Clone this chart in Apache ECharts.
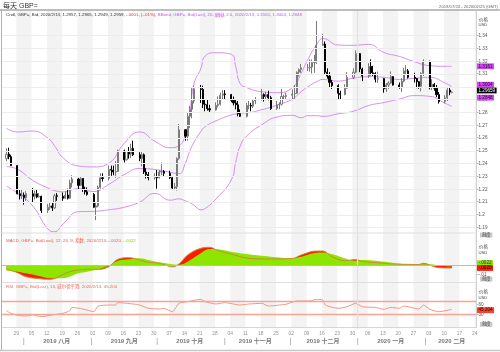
<!DOCTYPE html>
<html><head><meta charset="utf-8">
<script src="https://cdn.jsdelivr.net/npm/echarts@6/dist/echarts.min.js"></script>
<style>html,body{margin:0;padding:0;background:#fff}#c{width:500px;height:352px}</style>
</head><body><div id="c"></div>
<script>
// ---------- DATA ----------
const tradeDates = [
'2019-07-24','2019-07-25','2019-07-26',
'2019-07-29','2019-07-30','2019-07-31','2019-08-01','2019-08-02',
'2019-08-05','2019-08-06','2019-08-07','2019-08-08','2019-08-09',
'2019-08-12','2019-08-13','2019-08-14','2019-08-15','2019-08-16',
'2019-08-19','2019-08-20','2019-08-21','2019-08-22','2019-08-23',
'2019-08-26','2019-08-27','2019-08-28','2019-08-29','2019-08-30',
'2019-09-02','2019-09-03','2019-09-04','2019-09-05','2019-09-06',
'2019-09-09','2019-09-10','2019-09-11','2019-09-12','2019-09-13',
'2019-09-16','2019-09-17','2019-09-18','2019-09-19','2019-09-20',
'2019-09-23','2019-09-24','2019-09-25','2019-09-26','2019-09-27',
'2019-09-30','2019-10-01','2019-10-02','2019-10-03','2019-10-04',
'2019-10-07','2019-10-08','2019-10-09','2019-10-10','2019-10-11',
'2019-10-14','2019-10-15','2019-10-16','2019-10-17','2019-10-18',
'2019-10-21','2019-10-22','2019-10-23','2019-10-24','2019-10-25',
'2019-10-28','2019-10-29','2019-10-30','2019-10-31','2019-11-01',
'2019-11-04','2019-11-05','2019-11-06','2019-11-07','2019-11-08',
'2019-11-11','2019-11-12','2019-11-13','2019-11-14','2019-11-15',
'2019-11-18','2019-11-19','2019-11-20','2019-11-21','2019-11-22',
'2019-11-25','2019-11-26','2019-11-27','2019-11-28','2019-11-29',
'2019-12-02','2019-12-03','2019-12-04','2019-12-05','2019-12-06',
'2019-12-09','2019-12-10','2019-12-11','2019-12-12','2019-12-13',
'2019-12-16','2019-12-17','2019-12-18','2019-12-19','2019-12-20',
'2019-12-23','2019-12-24','2019-12-26','2019-12-27',
'2019-12-30','2019-12-31','2020-01-02','2020-01-03',
'2020-01-06','2020-01-07','2020-01-08','2020-01-09','2020-01-10',
'2020-01-13','2020-01-14','2020-01-15','2020-01-16','2020-01-17',
'2020-01-20','2020-01-21','2020-01-22','2020-01-23','2020-01-24',
'2020-01-27','2020-01-28','2020-01-29','2020-01-30','2020-01-31',
'2020-02-03','2020-02-04','2020-02-05','2020-02-06','2020-02-07',
'2020-02-10','2020-02-11','2020-02-12','2020-02-13'];
const opens = [
1.2440,1.2475,1.2455,
1.2385,1.2165,1.2150,1.2155,1.2135,
1.2165,1.2145,1.2165,1.2140,1.2145,
1.2035,1.2060,1.2070,1.2055,1.2150,
1.2145,1.2130,1.2155,1.2130,1.2250,
1.2280,1.2230,1.2285,1.2200,1.2180,
1.2160,1.2060,1.2070,1.2215,1.2290,
1.2285,1.2355,1.2350,1.2335,1.2340,
1.2500,1.2430,1.2495,1.2475,1.2520,
1.2470,1.2440,1.2470,1.2335,1.2315,
1.2290,1.2295,1.2290,1.2335,1.2340,
1.2325,1.2290,1.2210,1.2220,1.2440,
1.2665,1.2615,1.2770,1.2825,1.2890,
1.2985,1.2980,1.2865,1.2860,1.2830,
1.2820,1.2855,1.2865,1.2935,1.2945,
1.2940,1.2895,1.2875,1.2860,1.2790,
1.2770,1.2855,1.2855,1.2850,1.2890,
1.2900,1.2940,1.2925,1.2940,1.2915,
1.2830,1.2860,1.2865,1.2925,1.2925,
1.2935,1.2945,1.2950,1.3115,1.3135,
1.3150,1.3150,1.3155,1.3190,1.3190,
1.3325,1.3335,1.3115,1.3085,1.3035,
1.3010,1.2950,1.2940,1.2990,
1.3075,1.3115,1.3260,1.3140,
1.3085,1.3160,1.3110,1.3105,1.3060,
1.3065,1.2985,1.3015,1.3030,1.3080,
1.3015,1.3000,1.3045,1.3125,1.3125,
1.3075,1.3065,1.3040,1.3005,1.3105,
1.3200,1.3000,1.3020,1.2990,1.2940,
1.2885,1.2915,1.2975,1.2957];
const highs = [
1.2520,1.2525,1.2470,
1.2390,1.2200,1.2195,1.2175,1.2185,
1.2210,1.2190,1.2200,1.2170,1.2150,
1.2085,1.2095,1.2095,1.2165,1.2170,
1.2175,1.2185,1.2205,1.2275,1.2310,
1.2290,1.2295,1.2285,1.2220,1.2215,
1.2170,1.2095,1.2230,1.2325,1.2325,
1.2385,1.2385,1.2385,1.2420,1.2510,
1.2510,1.2500,1.2530,1.2555,1.2580,
1.2490,1.2500,1.2480,1.2365,1.2335,
1.2325,1.2350,1.2350,1.2410,1.2350,
1.2345,1.2295,1.2250,1.2450,1.2710,
1.2670,1.2800,1.2850,1.2990,1.3010,
1.3015,1.3010,1.2905,1.2905,1.2860,
1.2880,1.2925,1.2955,1.2975,1.2975,
1.2945,1.2925,1.2900,1.2890,1.2825,
1.2875,1.2890,1.2875,1.2905,1.2920,
1.2985,1.2950,1.2960,1.2970,1.2930,
1.2890,1.2880,1.2985,1.2940,1.2955,
1.2980,1.3015,1.3120,1.3145,1.3180,
1.3180,1.3215,1.3215,1.3250,1.3515,
1.3415,1.3355,1.3145,1.3115,1.3055,
1.3020,1.2970,1.3020,1.3115,
1.3145,1.3285,1.3265,1.3150,
1.3185,1.3215,1.3165,1.3115,1.3120,
1.3070,1.3030,1.3045,1.3120,1.3085,
1.3035,1.3070,1.3150,1.3170,1.3140,
1.3110,1.3070,1.3045,1.3115,1.3215,
1.3205,1.3060,1.3030,1.3015,1.2960,
1.2935,1.2995,1.3000,1.2965];
const lows = [
1.2420,1.2435,1.2385,
1.2160,1.2120,1.2125,1.2080,1.2110,
1.2095,1.2120,1.2130,1.2135,1.2015,
1.2015,1.2040,1.2030,1.2045,1.2110,
1.2110,1.2125,1.2120,1.2125,1.2215,
1.2195,1.2225,1.2180,1.2160,1.2150,
1.2055,1.1959,1.2060,1.2205,1.2260,
1.2270,1.2305,1.2310,1.2290,1.2335,
1.2410,1.2425,1.2440,1.2445,1.2460,
1.2420,1.2380,1.2320,1.2285,1.2270,
1.2275,1.2205,1.2285,1.2310,1.2300,
1.2280,1.2195,1.2195,1.2190,1.2430,
1.2580,1.2580,1.2680,1.2755,1.2870,
1.2875,1.2835,1.2810,1.2815,1.2800,
1.2815,1.2840,1.2855,1.2905,1.2905,
1.2880,1.2855,1.2825,1.2770,1.2765,
1.2760,1.2825,1.2810,1.2835,1.2865,
1.2895,1.2885,1.2905,1.2895,1.2820,
1.2820,1.2825,1.2855,1.2900,1.2905,
1.2895,1.2900,1.2945,1.3080,1.3110,
1.3125,1.3120,1.3105,1.3110,1.3180,
1.3320,1.3095,1.3065,1.2995,1.2985,
1.2905,1.2900,1.2935,1.2985,
1.3060,1.3105,1.3115,1.3045,
1.3070,1.3090,1.3085,1.3035,1.3030,
1.2955,1.2960,1.2985,1.3025,1.3010,
1.2985,1.2960,1.3035,1.3100,1.3065,
1.3035,1.2990,1.2985,1.2965,1.3085,
1.2980,1.2975,1.2970,1.2920,1.2870,
1.2870,1.2890,1.2935,1.2949];
const closes = [
1.2475,1.2455,1.2385,
1.2165,1.2150,1.2155,1.2135,1.2165,
1.2145,1.2165,1.2140,1.2145,1.2035,
1.2060,1.2070,1.2055,1.2150,1.2145,
1.2130,1.2155,1.2130,1.2250,1.2280,
1.2230,1.2285,1.2200,1.2180,1.2160,
1.2060,1.2070,1.2215,1.2290,1.2285,
1.2355,1.2350,1.2335,1.2340,1.2500,
1.2430,1.2495,1.2475,1.2520,1.2470,
1.2440,1.2470,1.2335,1.2315,1.2290,
1.2295,1.2290,1.2335,1.2340,1.2325,
1.2290,1.2210,1.2220,1.2440,1.2665,
1.2615,1.2770,1.2825,1.2890,1.2985,
1.2980,1.2865,1.2860,1.2830,1.2820,
1.2855,1.2865,1.2935,1.2945,1.2940,
1.2895,1.2875,1.2860,1.2790,1.2770,
1.2855,1.2855,1.2850,1.2890,1.2900,
1.2940,1.2925,1.2940,1.2915,1.2830,
1.2860,1.2865,1.2925,1.2925,1.2935,
1.2945,1.2950,1.3115,1.3135,1.3150,
1.3150,1.3155,1.3190,1.3190,1.3325,
1.3335,1.3115,1.3085,1.3035,1.3010,
1.2950,1.2940,1.2990,1.3075,
1.3115,1.3260,1.3140,1.3085,
1.3160,1.3110,1.3105,1.3060,1.3065,
1.2985,1.3015,1.3030,1.3080,1.3015,
1.3000,1.3045,1.3125,1.3125,1.3075,
1.3065,1.3040,1.3005,1.3105,1.3200,
1.3000,1.3020,1.2990,1.2940,1.2885,
1.2915,1.2975,1.2960,1.2959];

// Bollinger band
const bbDates = ['2019-07-24','2019-07-29','2019-08-05','2019-08-12','2019-08-15','2019-08-19','2019-08-26','2019-09-02','2019-09-09','2019-09-16','2019-09-23','2019-09-30','2019-10-07','2019-10-11','2019-10-14','2019-10-16','2019-10-18','2019-10-21','2019-10-23','2019-10-28','2019-11-04','2019-11-06','2019-11-08','2019-11-11','2019-11-18','2019-11-25','2019-12-02','2019-12-06','2019-12-09','2019-12-13','2019-12-16','2019-12-23','2019-12-30','2020-01-06','2020-01-13','2020-01-20','2020-01-27','2020-02-03','2020-02-10','2020-02-13'];
const bbUpper = [1.2677,1.2648,1.2655,1.2600,1.2540,1.2445,1.2382,1.2375,1.2405,1.2560,1.2648,1.2575,1.2525,1.2540,1.2630,1.2800,1.3030,1.3140,1.3240,1.3267,1.3255,1.3160,1.3028,1.2995,1.2962,1.2955,1.2995,1.3106,1.3212,1.3327,1.3378,1.3327,1.3325,1.3332,1.3268,1.3238,1.3196,1.3166,1.3161,1.3161];
const bbMid   = [1.2377,1.2357,1.2270,1.2210,1.2190,1.2180,1.2205,1.2183,1.2240,1.2315,1.2362,1.2355,1.2333,1.2322,1.2406,1.2500,1.2570,1.2650,1.2689,1.2735,1.2781,1.2788,1.2795,1.2797,1.2822,1.2858,1.2905,1.2963,1.3000,1.3040,1.3058,1.3045,1.3068,1.3080,1.3075,1.3058,1.3067,1.3075,1.3030,1.3004];
const bbLower = [1.2225,1.2170,1.2070,1.1890,1.1869,1.1930,1.2025,1.2028,1.2040,1.2060,1.2100,1.2168,1.2115,1.2125,1.2110,1.2095,1.2075,1.2040,1.2050,1.2125,1.2273,1.2410,1.2535,1.2615,1.2705,1.2765,1.2778,1.2759,1.2775,1.2775,1.2770,1.2790,1.2810,1.2855,1.2878,1.2905,1.2932,1.2926,1.2872,1.2848];

// MACD
const macdDates = ['2019-07-24','2019-07-29','2019-08-02','2019-08-08','2019-08-13','2019-08-19','2019-08-22','2019-08-26','2019-08-30','2019-09-04','2019-09-09','2019-09-13','2019-09-18','2019-09-23','2019-09-27','2019-10-02','2019-10-08','2019-10-11','2019-10-15','2019-10-21','2019-10-25','2019-10-29','2019-11-04','2019-11-12','2019-11-22','2019-12-02','2019-12-06','2019-12-13','2019-12-16','2019-12-20','2019-12-26','2019-12-31','2020-01-03','2020-01-10','2020-01-17','2020-01-23','2020-01-29','2020-01-31','2020-02-04','2020-02-07','2020-02-13'];
const macdValues   = [-0.0043,-0.0077,-0.0117,-0.0137,-0.0143,-0.0095,-0.0067,-0.0050,-0.0043,-0.0043,-0.0015,0.0057,0.0073,0.0050,0.0027,0.0017,-0.0017,0.0010,0.0100,0.0167,0.0177,0.0143,0.0110,0.0067,0.0060,0.0065,0.0100,0.0140,0.0140,0.0083,0.0043,0.0055,0.0035,0.0023,0.0010,0.0007,0.0005,0.0017,-0.0010,-0.0027,-0.0030];
const signalValues = [-0.0057,-0.0067,-0.0083,-0.0110,-0.0133,-0.0130,-0.0117,-0.0083,-0.0067,-0.0043,-0.0005,0.0043,0.0057,0.0067,0.0050,0.0027,0.0007,0.0003,0.0033,0.0117,0.0160,0.0157,0.0133,0.0107,0.0083,0.0067,0.0083,0.0123,0.0125,0.0110,0.0067,0.0043,0.0050,0.0040,0.0023,0.0010,0.0010,0.0008,0.0007,-0.0008,-0.0015];

// RSI
const rsiDates = ['2019-07-24','2019-07-26','2019-07-29','2019-08-02','2019-08-05','2019-08-09','2019-08-14','2019-08-19','2019-08-22','2019-08-23','2019-08-28','2019-09-02','2019-09-04','2019-09-09','2019-09-12','2019-09-13','2019-09-20','2019-09-23','2019-09-27','2019-10-02','2019-10-04','2019-10-08','2019-10-11','2019-10-15','2019-10-21','2019-10-23','2019-10-28','2019-11-01','2019-11-08','2019-11-11','2019-11-12','2019-11-18','2019-11-21','2019-11-26','2019-11-29','2019-12-04','2019-12-10','2019-12-13','2019-12-16','2019-12-17','2019-12-23','2019-12-27','2019-12-31','2020-01-03','2020-01-09','2020-01-13','2020-01-16','2020-01-20','2020-01-22','2020-01-29','2020-01-31','2020-02-03','2020-02-07','2020-02-13'];
const rsiValues = [41.5,33.9,28,26,29,24,29,34,41.5,51,46.4,38.6,55,58,58,65,61,58,48.5,46.4,48.5,38.6,63,67.8,74.7,67.8,61,65,58,60,61,63,55,58,60,69.8,69.8,74.7,72,58,48.5,53,63,53,51,45.5,51,48.5,55,46.4,58,45.5,38.6,45.204];

// Axis / tick labels
const priceTickLabels = ['1.34','1.33','1.32','1.31','1.29','1.28','1.27','1.26','1.25','1.24','1.23','1.22','1.21','1.2','1.19'];
const rsiTickLabels = ['60','30'];
const weekTicks = ['2019-07-29','2019-08-05','2019-08-12','2019-08-19','2019-08-26','2019-09-02','2019-09-09','2019-09-16','2019-09-23','2019-09-30','2019-10-07','2019-10-14','2019-10-21','2019-10-28','2019-11-04','2019-11-11','2019-11-18','2019-11-25','2019-12-02','2019-12-09','2019-12-16','2019-12-23','2019-12-30','2020-01-06','2020-01-13','2020-01-20','2020-01-27','2020-02-03','2020-02-10','2020-02-17','2020-02-24'];
const monthLabels = ['2019 八月','2019 九月','2019 十月','2019 十一月','2019 十二月','2020 一月','2020 二月'];
const monthLabelDates = ['2019-08-16','2019-09-16','2019-10-16','2019-11-15','2019-12-16','2020-01-16','2020-02-13'];
const monthStarts = ['2019-08-01','2019-09-01','2019-10-01','2019-11-01','2019-12-01','2020-01-01','2020-02-01'];
const yearBoundary = '2020-01-01';

// ---------- BUILD ----------
const DAY = 864e5;
function ts(s, h) { const p = s.split('-').map(Number); return Date.UTC(p[0], p[1]-1, p[2], h || 0); }
const X_MIN = Date.UTC(2019,6,29) - 6.55*DAY;
const X_MAX = Date.UTC(2020,1,24) + 0.6*DAY;
const FONT = '"Liberation Sans","Noto Sans CJK SC",sans-serif';
const BAND = '#f3f3f3';

const bands = [];
for (let i = 0; i < weekTicks.length; i += 2) {
  const a = ts(weekTicks[i]);
  const b = i + 1 < weekTicks.length ? ts(weekTicks[i+1]) : ts(weekTicks[i]) + 7*DAY;
  bands.push([{xAxis: a}, {xAxis: b}]);
}
const markBands = {silent: true, itemStyle: {color: BAND}, data: bands};
const yearLine = {xAxis: ts(yearBoundary)};
const YEAR_STYLE = {lineStyle: {color: '#e2e2e2', width: 1.2}};

const candleData = tradeDates.map((d, i) => [ts(d, 12), opens[i], closes[i], lows[i], highs[i]]);
const pts = (dates, vals) => dates.map((d, i) => [ts(d, 12), vals[i]]);

const priceGrid = priceTickLabels.map(s => ({yAxis: parseFloat(s)}));
priceGrid.push({yAxis: 1.30});

const grids = [
  {left: 2, right: 24, top: 10.1, height: 230.4},
  {left: 2, right: 24, top: 235, height: 50},
  {left: 2, right: 24, top: 283.8, height: 44.5},
  {left: 2, right: 24, top: 328.3, height: 22}
];
const xAxes = grids.map((g, i) => ({type: 'time', gridIndex: i, min: X_MIN, max: X_MAX, show: false}));
const lblStyle = {fontSize: 4.6, color: '#555', fontFamily: FONT, margin: 1};
const yAxes = [
  {type: 'value', gridIndex: 0, position: 'right', min: 1.18, max: 1.36, interval: 0.01,
   axisLine: {show: false}, axisTick: {show: false}, splitLine: {show: false},
   axisLabel: Object.assign({}, lblStyle, {formatter: v => { const s = String(+v.toFixed(2)); return priceTickLabels.indexOf(s) >= 0 ? '-' + s : ''; }})},
  {type: 'value', gridIndex: 1, position: 'right', min: -0.02, max: 0.03, interval: 0.01,
   axisLine: {show: false}, axisTick: {show: false}, splitLine: {show: false},
   axisLabel: Object.assign({}, lblStyle, {formatter: v => Math.abs(v + 0.01) < 1e-9 ? '--.01' : ''})},
  {type: 'value', gridIndex: 2, position: 'right', min: -10, max: 120, interval: 10,
   axisLine: {show: false}, axisTick: {show: false}, splitLine: {show: false},
   axisLabel: Object.assign({}, lblStyle, {formatter: v => { const s = String(Math.round(v)); return rsiTickLabels.indexOf(s) >= 0 ? '-' + s : ''; }})},
  {type: 'value', gridIndex: 3, min: 0, max: 1, show: false}
];

const bbLine = (name, vals) => ({
  name, type: 'line', xAxisIndex: 0, yAxisIndex: 0, data: pts(bbDates, vals), smooth: 0.5,
  symbol: 'none', lineStyle: {color: '#d48cf2', width: 1}, silent: true, z: 3
});

const labelScatter = (data, y, label) => ({
  type: 'scatter', xAxisIndex: 3, yAxisIndex: 3, symbolSize: 1, silent: true,
  itemStyle: {color: 'rgba(0,0,0,0)'},
  data: data.map(o => ({value: [o.t, y], name: o.n})),
  label: Object.assign({show: true, position: 'inside', formatter: '{b}', fontFamily: FONT}, label)
});

const series = [
  {
    name: 'Cndl', type: 'candlestick', xAxisIndex: 0, yAxisIndex: 0, barWidth: 1.6,
    data: candleData, encode: {x: 0, y: [1, 2, 3, 4]},
    itemStyle: {color: '#ffffff', color0: '#000000', borderColor: '#7a7a7a', borderColor0: '#000000', borderWidth: 1},
    markArea: markBands,
    markLine: {silent: true, symbol: 'none', label: {show: false}, animation: false,
      lineStyle: {color: '#ededed', width: 1, type: 'solid'},
      data: priceGrid.concat([Object.assign({}, YEAR_STYLE, yearLine)])},
    z: 4
  },
  bbLine('upper', bbUpper), bbLine('mid', bbMid), bbLine('lower', bbLower),
  {
    name: 'macdArea', type: 'line', xAxisIndex: 1, yAxisIndex: 1, data: pts(macdDates, macdValues), smooth: 0.4,
    symbol: 'none', lineStyle: {width: 0}, areaStyle: {color: '#ff1a00', opacity: 1}, silent: true,
    markArea: markBands,
    markLine: {silent: true, symbol: 'none', label: {show: false}, lineStyle: {color: '#e2e2e2', width: 1.2, type: 'solid'}, data: [yearLine]}
  },
  {
    name: 'signal', type: 'line', xAxisIndex: 1, yAxisIndex: 1, data: pts(macdDates, signalValues), smooth: 0.4,
    symbol: 'none', lineStyle: {width: 0}, areaStyle: {color: '#8ee600', opacity: 1}, silent: true
  },
  {
    name: 'macd', type: 'line', xAxisIndex: 1, yAxisIndex: 1, data: pts(macdDates, macdValues), smooth: 0.4,
    symbol: 'none', lineStyle: {color: '#c98a3a', width: 1}, silent: true,
    markLine: {silent: true, symbol: 'none', label: {show: false}, lineStyle: {color: '#f2a59a', width: 1, type: 'solid'}, data: [{yAxis: 0}]}
  },
  {
    name: 'rsi', type: 'line', xAxisIndex: 2, yAxisIndex: 2, data: pts(rsiDates, rsiValues), smooth: 0.2,
    symbol: 'none', lineStyle: {color: '#f39480', width: 1}, silent: true,
    markArea: markBands,
    markLine: {silent: true, symbol: 'none', label: {show: false}, lineStyle: {color: '#f6a593', width: 1.3, type: 'solid'},
      data: [{yAxis: 70}, {yAxis: 30}, Object.assign({}, YEAR_STYLE, yearLine)]}
  },
  labelScatter(weekTicks.map(d => ({t: ts(d), n: d.slice(8)})), 0.755, {fontSize: 4.9, color: '#777'}),
  labelScatter(monthLabels.map((n, i) => ({t: ts(monthLabelDates[i], 12), n})), 0.39, {fontSize: 6, color: '#555', fontWeight: 'bold'}),
  labelScatter(monthStarts.map(d => ({t: ts(d, 12), n: '|'})), 0.40, {fontSize: 6.5, color: '#666'})
];

const chart = echarts.init(document.getElementById('c'), null, {renderer: 'canvas'});
chart.setOption({animation: false, grid: grids, xAxis: xAxes, yAxis: yAxes, series});

// ---------- CHROME & VALUE LABELS ----------
const g = [];
const txt = (x, y, text, st) => g.push({type: 'text', x, y, z: 120, silent: true,
  style: Object.assign({text, fontFamily: FONT, fontSize: 4.6, fill: '#444', verticalAlign: 'middle', align: 'left'}, st)});
const line = (x1, y1, x2, y2, color, w) => g.push({type: 'line', z: 110, silent: true,
  shape: {x1, y1, x2, y2}, style: {stroke: color, lineWidth: w || 1}});

line(0, 10, 500, 10, '#a8a8a8', 1.3);
line(1.5, 10, 1.5, 350, '#b0b0b0', 1);
line(476.5, 10, 476.5, 328, '#d0d0d0', 1);
line(1.5, 233, 476.5, 233, '#dedede', 1);
line(1.5, 282.5, 476.5, 282.5, '#dedede', 1);
line(1.5, 327.5, 476.5, 327.5, '#d6d6d6', 1);
line(0, 350.5, 500, 350.5, '#c8c8c8', 1.5);

txt(3, 6, '每天 GBP=', {fontSize: 7, fill: '#333'});
txt(498, 6.5, '2019/07/24 - 2020/02/25 (GMT)', {fontSize: 4.2, fill: '#666', align: 'right'});

const rs = (c, extra) => Object.assign({fontSize: 4.4, fontFamily: FONT, fill: c}, extra || {});
g.push({type: 'text', x: 6, y: 15, z: 120, silent: true, style: {
  text: '{a|Cndl, GBP=, Bid, 2020/2/13, 1.2957, 1.2965, 1.2949, 1.2959, }{r|-.0001, (-.01%), }{m|BBand, GBP=, Bid(Last), 20, }{h|指数}{m|, 2.0, 2020/2/13, 1.3161, 1.3004, 1.2848}',
  verticalAlign: 'middle', rich: {a: rs('#333'), r: rs('#ff2a2a'), m: rs('#c257ea'), h: rs('#ffffff', {backgroundColor: '#d27af2'})}}});
g.push({type: 'text', x: 6, y: 241, z: 120, silent: true, style: {
  text: '{r|MACD, GBP=, Bid(Last), 12, 26, 9, 指数, 2020/2/13, -.0020, }{g|-.0022}',
  verticalAlign: 'middle', rich: {r: rs('#ec5a4a'), g: rs('#86d000')}}});
g.push({type: 'text', x: 6, y: 286.7, z: 120, silent: true, style: {
  text: '{r|RSI, GBP=, Bid(Last), 14, 威尔德平滑, 2020/2/13, 45.204}',
  verticalAlign: 'middle', rich: {r: rs('#ee6a58')}}});

// panel unit captions
[[20, 25.3], [246.5, 253], [292, 297.7]].forEach(p => {
  txt(479, p[0], '价格', {fontSize: 4.4});
  txt(478.5, p[1], 'USD', {fontSize: 4.2});
});
// scale buttons
[235, 279, 324.3].forEach(y => txt(480, y, '刻度', {fontSize: 4.2, fill: '#333', backgroundColor: '#c9c9c9', padding: [0.3, 2]}));

// current value boxes, positioned through the axes' scales
const box = (axis, v, text, bg, fg, off) => {
  const y = chart.convertToPixel({yAxisIndex: axis}, v) + (off || 0);
  txt(477, y, text, {fill: fg, backgroundColor: bg, padding: [0.6, 1.5], fontSize: 4.6});
};
box(0, 1.3161, '1.3161', '#cf48f0', '#2a002a', 0);
box(0, 1.3004, '1.3004', '#cf48f0', '#2a002a', -1.7);
box(0, 1.29659, '1.29659', '#000000', '#ffffff', -0.8);
box(0, 1.2848, '1.2848', '#cf48f0', '#2a002a', -8.7);
box(1, -0.0022, '-.0022', '#8ee600', '#1a3000', -4);
box(1, -0.0020, '-.0020', '#ff1a00', '#300000', 1);
box(2, 45.204, '45.204', '#f2442e', '#300000', 0.8);

chart.setOption({graphic: g});
</script>
</body></html>
